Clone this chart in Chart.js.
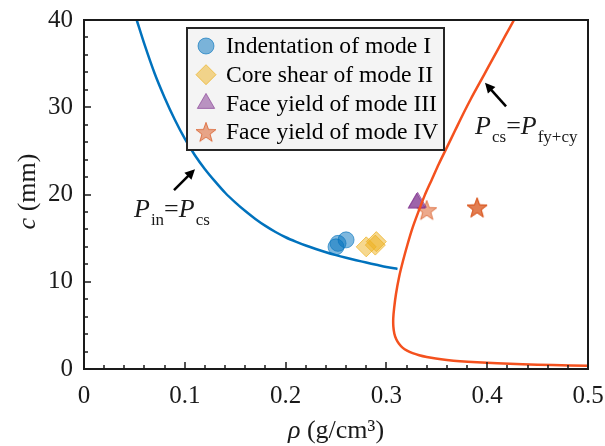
<!DOCTYPE html>
<html>
<head>
<meta charset="utf-8">
<script src="https://cdn.jsdelivr.net/npm/chart.js@4/dist/chart.umd.min.js"></script>
<style>
html, body { margin: 0; padding: 0; background: #fff; }
</style>
</head>
<body>
<canvas id="myChart" width="605" height="446"></canvas>
<script>
// boundary curves
var inCsRho = [0.0523, 0.06, 0.07, 0.08, 0.09, 0.10, 0.11, 0.12, 0.13, 0.14, 0.15, 0.16, 0.17, 0.18, 0.19, 0.20,
               0.21, 0.22, 0.23, 0.24, 0.25, 0.26, 0.27, 0.28, 0.29, 0.30, 0.311];
var inCsC   = [40, 37.2, 33.9, 31.1, 28.6, 26.4, 24.5, 22.9, 21.5, 20.2, 19.1, 18.1, 17.2, 16.4, 15.7, 15.1,
               14.6, 14.15, 13.75, 13.38, 13.05, 12.75, 12.47, 12.2, 11.95, 11.7, 11.47];

var csFyRho = [0.4266, 0.418, 0.41, 0.401, 0.393, 0.384, 0.376, 0.368, 0.36, 0.352, 0.345, 0.338, 0.332, 0.326, 0.321,
               0.3165, 0.3125, 0.3095, 0.3077, 0.3068, 0.3069, 0.3079, 0.3098, 0.3125, 0.316, 0.3205, 0.326, 0.3325,
               0.34, 0.349, 0.36, 0.373, 0.39, 0.41, 0.435, 0.465, 0.5];
var csFyC   = [40, 38.2, 36.5, 34.6, 32.9, 31.0, 29.2, 27.3, 25.4, 23.5, 21.7, 19.9, 18.1, 16.2, 14.3,
               12.4, 10.5, 8.6, 7.0, 5.8, 4.85, 4.05, 3.4, 2.88, 2.45, 2.1, 1.82, 1.58,
               1.38, 1.2, 1.04, 0.9, 0.77, 0.65, 0.54, 0.45, 0.38];

// test points
var mode1Rho = [0.25, 0.252, 0.26];
var mode1C   = [14.0, 14.4, 14.8];
var mode2Rho = [0.28, 0.289, 0.29];
var mode2C   = [14.0, 14.2, 14.6];
var mode3Rho = [0.33, 0.331];
var mode3C   = [19.0, 19.1];
var mode4Rho = [0.34, 0.39, 0.39];
var mode4C   = [18.2, 18.5, 18.5];

var modeLabels = ["Indentation of mode I", "Core shear of mode II", "Face yield of mode III", "Face yield of mode IV"];

var xTicks = [0, 0.1, 0.2, 0.3, 0.4, 0.5];
var yTicks = [0, 10, 20, 30, 40];

var serif = "'Liberation Serif', 'Times New Roman', serif";
var ink = "#1a1a1a";

function toPoints(xs, ys) {
    var pts = [];
    for (var i = 0; i < xs.length; i++) {
        pts.push({x: xs[i], y: ys[i]});
    }
    return pts;
}

function makeStar(fill, stroke) {
    var c = document.createElement("canvas");
    c.width = 24; c.height = 24;
    var g = c.getContext("2d");
    g.beginPath();
    for (var i = 0; i < 10; i++) {
        var r = (i % 2 == 0) ? 10.5 : 4.3;
        var a = -Math.PI / 2 + i * Math.PI / 5;
        var px = 12 + r * Math.cos(a), py = 12.8 + r * Math.sin(a);
        if (i == 0) g.moveTo(px, py); else g.lineTo(px, py);
    }
    g.closePath();
    g.fillStyle = fill;
    g.fill();
    g.strokeStyle = stroke;
    g.lineWidth = 1;
    g.stroke();
    return c;
}

var starImg = makeStar("rgba(217,83,25,0.5)", "rgba(217,83,25,0.7)");

var markerSets = [
    {label: modeLabels[0], style: "circle", radius: 8, fill: "rgba(0,114,189,0.5)", line: "rgba(0,114,189,0.6)"},
    {label: modeLabels[1], style: "rectRot", radius: 10, fill: "rgba(237,177,32,0.5)", line: "rgba(237,177,32,0.7)"},
    {label: modeLabels[2], style: "triangle", radius: 10, fill: "rgba(126,47,142,0.5)", line: "rgba(126,47,142,0.6)"},
    {label: modeLabels[3], style: starImg, radius: 10, fill: "rgba(217,83,25,0.5)", line: "rgba(217,83,25,0.7)"}
];
var markerData = [toPoints(mode1Rho, mode1C), toPoints(mode2Rho, mode2C), toPoints(mode3Rho, mode3C), toPoints(mode4Rho, mode4C)];

var datasets = [
    {label: "Pin=Pcs", data: toPoints(inCsRho, inCsC), showLine: true, borderColor: "#0072bd", borderWidth: 2.5, pointRadius: 0, tension: 0.3, fill: false},
    {label: "Pcs=Pfy+cy", data: toPoints(csFyRho, csFyC), showLine: true, borderColor: "#f4511e", borderWidth: 2.5, pointRadius: 0, tension: 0.3, fill: false}
];
for (var k = 0; k < markerSets.length; k++) {
    datasets.push({
        label: markerSets[k].label,
        data: markerData[k],
        showLine: false,
        pointStyle: markerSets[k].style,
        pointRadius: markerSets[k].radius,
        pointBackgroundColor: markerSets[k].fill,
        pointBorderColor: markerSets[k].line,
        pointBorderWidth: 1
    });
}

function arrow(ctx, x1, y1, x2, y2) {
    var a = Math.atan2(y2 - y1, x2 - x1);
    ctx.save();
    ctx.strokeStyle = "#000";
    ctx.fillStyle = "#000";
    ctx.lineWidth = 2.5;
    ctx.beginPath();
    ctx.moveTo(x1, y1);
    ctx.lineTo(x2 - 6 * Math.cos(a), y2 - 6 * Math.sin(a));
    ctx.stroke();
    ctx.beginPath();
    ctx.moveTo(x2, y2);
    ctx.lineTo(x2 - 10 * Math.cos(a) + 5 * Math.sin(a), y2 - 10 * Math.sin(a) - 5 * Math.cos(a));
    ctx.lineTo(x2 - 10 * Math.cos(a) - 5 * Math.sin(a), y2 - 10 * Math.sin(a) + 5 * Math.cos(a));
    ctx.closePath();
    ctx.fill();
    ctx.restore();
}

// P_a = P_b with subscripts
function eqText(ctx, x, y, subA, subB) {
    var big = "italic 26px " + serif, norm = "26px " + serif, small = "17px " + serif;
    ctx.save();
    ctx.fillStyle = ink;
    ctx.textAlign = "left";
    ctx.textBaseline = "alphabetic";
    var parts = [[big, "P", 0], [small, subA, 8], [norm, "=", 0], [big, "P", 0], [small, subB, 8]];
    for (var i = 0; i < parts.length; i++) {
        ctx.font = parts[i][0];
        ctx.fillText(parts[i][1], x, y + parts[i][2]);
        x += ctx.measureText(parts[i][1]).width + (i == 0 || i == 3 ? 1 : 0);
    }
    ctx.restore();
}

var decorPlugin = {
    id: "decor",
    afterDatasetsDraw: function(chart) {
        var ctx = chart.ctx;
        var xs = chart.scales.x, ys = chart.scales.y;
        var a = chart.chartArea;

        // box lines and inward ticks
        ctx.save();
        ctx.strokeStyle = ink;
        ctx.lineWidth = 2;
        ctx.beginPath();
        ctx.moveTo(a.left, a.top); ctx.lineTo(a.right, a.top); ctx.lineTo(a.right, a.bottom);
        ctx.lineTo(a.left, a.bottom); ctx.closePath();
        ctx.stroke();
        ctx.lineWidth = 1.5;
        ctx.beginPath();
        for (var i = 0; i <= 25; i++) {
            var px = Math.round(xs.getPixelForValue(i * 0.02));
            var len = (i % 5 == 0) ? 7 : 4;
            ctx.moveTo(px, a.bottom); ctx.lineTo(px, a.bottom - len);
        }
        for (var j = 0; j <= 20; j++) {
            var py = Math.round(ys.getPixelForValue(j * 2));
            var len2 = (j % 5 == 0) ? 7 : 4;
            ctx.moveTo(a.left, py); ctx.lineTo(a.left + len2, py);
        }
        ctx.stroke();
        ctx.restore();

        // annotations
        arrow(ctx, xs.getPixelForValue(0.0893), ys.getPixelForValue(20.5), xs.getPixelForValue(0.1101), ys.getPixelForValue(22.9));
        eqText(ctx, xs.getPixelForValue(0.0496), ys.getPixelForValue(17.4), "in", "cs");
        arrow(ctx, xs.getPixelForValue(0.4187), ys.getPixelForValue(30.1), xs.getPixelForValue(0.3978), ys.getPixelForValue(32.8));
        eqText(ctx, xs.getPixelForValue(0.388), ys.getPixelForValue(26.9), "cs", "fy+cy");

        // legend box inside the plot
        var lx = a.left + 103, ly = a.top + 8, lw = 257, lh = 122;
        ctx.save();
        ctx.fillStyle = "#f4f4f4";
        ctx.fillRect(lx, ly, lw, lh);
        ctx.strokeStyle = "#262626";
        ctx.lineWidth = 2;
        ctx.strokeRect(lx, ly, lw, lh);
        ctx.font = "23.6px " + serif;
        ctx.textBaseline = "middle";
        for (var m = 0; m < markerSets.length; m++) {
            var cy = ly + 18 + m * 28.7;
            var ms = markerSets[m];
            ctx.fillStyle = ms.fill;
            ctx.strokeStyle = ms.line;
            ctx.lineWidth = 1;
            Chart.helpers.drawPoint(ctx, {pointStyle: ms.style, radius: ms.radius, rotation: 0, borderWidth: 1}, lx + 19, cy);
            ctx.fillStyle = "#000";
            ctx.fillText(ms.label, lx + 39, cy + 1);
        }
        ctx.restore();

        // axis titles with italic symbols
        ctx.save();
        ctx.fillStyle = ink;
        ctx.textBaseline = "alphabetic";
        var cx = (a.left + a.right) / 2;
        ctx.font = "italic 26px " + serif;
        var w1 = ctx.measureText("\u03c1").width;
        ctx.font = "26px " + serif;
        var w2 = ctx.measureText(" (g/cm\u00b3)").width;
        var sx = cx - (w1 + w2) / 2;
        ctx.font = "italic 26px " + serif;
        ctx.fillText("\u03c1", sx, 438);
        ctx.font = "26px " + serif;
        ctx.fillText(" (g/cm\u00b3)", sx + w1, 438);

        ctx.translate(35, (a.top + a.bottom) / 2 - 3);
        ctx.rotate(-Math.PI / 2);
        ctx.font = "italic 26px " + serif;
        var w3 = ctx.measureText("c").width;
        ctx.font = "26px " + serif;
        var w4 = ctx.measureText(" (mm)").width;
        ctx.font = "italic 26px " + serif;
        ctx.fillText("c", -(w3 + w4) / 2, 0);
        ctx.font = "26px " + serif;
        ctx.fillText(" (mm)", -(w3 + w4) / 2 + w3, 0);
        ctx.restore();
    }
};

window.onload = function() {
    var ctx = document.getElementById("myChart");
    var myChart = new Chart(ctx, {
        type: "scatter",
        data: {datasets: datasets},
        plugins: [decorPlugin],
        options: {
            responsive: false,
            animation: false,
            layout: {padding: {top: 20, right: 17, left: 0, bottom: 0}},
            plugins: {legend: {display: false}, tooltip: {enabled: false}},
            scales: {
                x: {
                    type: "linear", min: 0, max: 0.5,
                    afterBuildTicks: function(s) { s.ticks = xTicks.map(function(v) { return {value: v}; }); },
                    afterFit: function(s) { s.height = 77; s.paddingLeft = 0; s.paddingRight = 0; },
                    grid: {display: false, drawTicks: false},
                    border: {display: false},
                    ticks: {font: {family: serif, size: 25}, color: ink, padding: 12, maxRotation: 0,
                        callback: function(v) { return String(Math.round(v * 10) / 10); }}
                },
                y: {
                    type: "linear", min: 0, max: 40,
                    afterBuildTicks: function(s) { s.ticks = yTicks.map(function(v) { return {value: v}; }); },
                    afterFit: function(s) { s.width = 84; s.paddingTop = 0; s.paddingBottom = 0; },
                    grid: {display: false, drawTicks: false},
                    border: {display: false},
                    ticks: {font: {family: serif, size: 25}, color: ink, padding: 11}
                }
            }
        }
    });
};
</script>
</body>
</html>
